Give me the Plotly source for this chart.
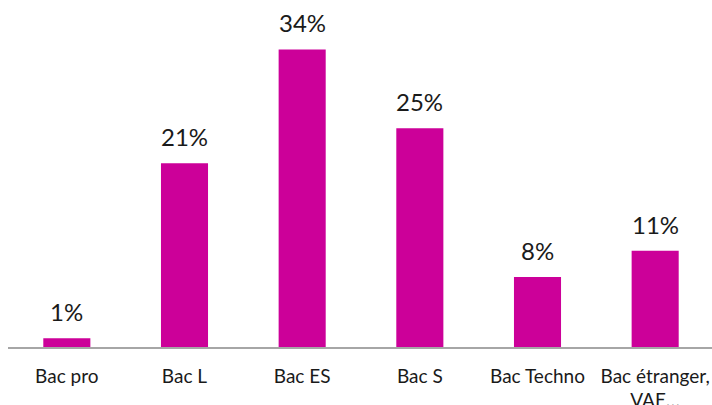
import plotly.graph_objects as go

categories = ["Bac pro", "Bac L", "Bac ES", "Bac S", "Bac Techno", "Bac étranger,<br>VAE…"]
values = [1, 21, 34, 25, 8, 11]
labels = ["1%", "21%", "34%", "25%", "8%", "11%"]

FONT = "Lato, Carlito, sans-serif"

fig = go.Figure(go.Bar(
    x=categories, y=values,
    marker=dict(color="#CC0099", line=dict(width=0)),
    width=0.4, cliponaxis=False,
))
for c, v, t in zip(categories, values, labels):
    fig.add_annotation(x=c, y=v, text=t, showarrow=False, yanchor="bottom",
                       yshift=10, font=dict(size=24, color="#1a1a1a", family=FONT))
fig.update_layout(
    width=714, height=405, margin=dict(l=8, r=0, t=10, b=58, autoexpand=False),
    plot_bgcolor="white", paper_bgcolor="white", showlegend=False,
    font=dict(family=FONT, color="#1a1a1a"),
)
fig.update_xaxes(showline=True, linecolor="#A6A6A6", linewidth=1.5, automargin=False,
                 tickfont=dict(size=19), ticks="", ticklabelstandoff=11)
fig.update_yaxes(visible=False, range=[0, 38.5], automargin=False)
fig.write_html("out.html", config={"displayModeBar": False},
               post_script="document.body.style.margin='0';document.body.style.overflow='hidden';")
